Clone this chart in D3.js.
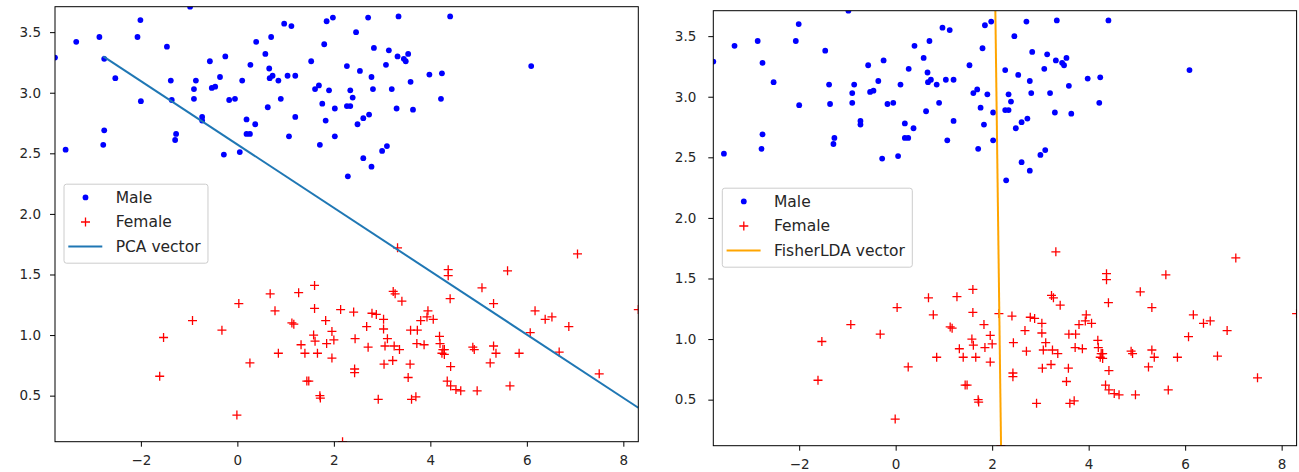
<!DOCTYPE html>
<html>
<head>
  <meta charset="utf-8">
  <title>PCA vs FisherLDA</title>
  <script src="https://cdn.jsdelivr.net/npm/d3@7"></script>
  <style>
    body { margin: 0; background: #ffffff; }
    svg text { font-family: "DejaVu Sans", sans-serif; font-size: 13.5px; fill: #262626; }
    .legend text { font-size: 15.5px; }
    .spine { fill: none; stroke: #000000; stroke-width: 1; }
    .tick line { stroke: #000000; }
    .male { fill: #0000ff; }
    .female { stroke: #ff0000; stroke-width: 1.3; fill: none; }
    .legend-box { fill: #ffffff; fill-opacity: 0.8; stroke: #cccccc; stroke-width: 1; }
  </style>
</head>
<body>
<script>
  // Male samples
  var maleX = [-3.78, -3.34, -2.86, -2.01, -2.07, -0.98, -1.46, -2.76, -2.53, -2.00,
               -1.38, -1.36, -2.76, -2.78, -3.56, -1.27, -1.29, -0.86, -0.90, -0.90,
               -0.73, -0.73, -0.57, -0.53, -0.46, -0.36, -0.25, -0.17, -0.05, -0.28,
               0.05, 0.10, 0.19, 0.19, 0.26, 0.37, 0.27, 0.39, 0.58, 0.66,
               0.67, 0.73, 0.85, 0.70, 0.97, 1.12, 1.04, 1.20, 0.63, 0.90,
               1.20, 1.07, 1.85, 1.98, 2.71, 3.34, 4.41, 2.46, 1.80, 1.53,
               2.27, 2.54, 2.83, 3.14, 3.08, 3.32, 3.45, 3.49, 3.54, 2.78,
               3.98, 4.24, 6.09, 3.59, 1.69, 1.61, 1.90, 2.34, 2.81, 3.20,
               2.39, 1.76, 2.02, 2.27, 2.34, 3.30, 3.64, 4.22, 1.83, 2.61,
               2.73, 2.49, 2.02, 1.71, 3.00, 3.10, 2.61, 2.78, 2.29];
  var maleY = [3.29, 3.42, 3.46, 3.60, 3.46, 3.71, 3.38, 3.28, 3.12, 2.93,
               3.10, 2.94, 2.69, 2.57, 2.53, 2.66, 2.61, 3.10, 3.03, 2.95,
               2.80, 2.77, 3.26, 3.04, 3.05, 3.13, 3.30, 2.94, 2.95, 2.49,
               2.51, 3.10, 2.78, 2.66, 2.66, 2.74, 3.23, 3.42, 3.32, 3.20,
               3.12, 3.14, 3.10, 3.46, 3.57, 3.55, 3.14, 3.14, 2.88, 2.95,
               2.80, 2.64, 3.59, 3.62, 3.62, 3.63, 3.63, 3.50, 3.40, 3.26,
               3.22, 3.18, 3.37, 3.35, 3.23, 3.30, 3.28, 3.26, 3.32, 3.13,
               3.15, 3.16, 3.22, 3.09, 3.06, 3.03, 3.02, 3.02, 3.03, 3.03,
               2.96, 2.91, 2.87, 2.89, 2.89, 2.87, 2.86, 2.95, 2.77, 2.79,
               2.82, 2.74, 2.64, 2.57, 2.52, 2.56, 2.46, 2.39, 2.31];

  // Female samples
  var femaleX = [-1.53, -1.61, -0.93, -0.32, 0.03, 0.26, -0.01, 0.68, 0.78, 0.85,
                 1.27, 1.13, 1.17, 1.60, 1.60, 1.32, 1.40, 1.58, 1.61, 1.66,
                 1.44, 1.48, 1.71, 1.72, 1.83, 1.96, 2.00, 1.85, 1.96, 2.14,
                 2.41, 2.44, 2.43, 2.43, 2.18, 2.68, 2.71, 2.79, 2.88, 3.03,
                 3.03, 3.11, 3.06, 3.04, 2.92, 3.22,
                 3.32, 3.23, 3.27, 3.41, 4.37, 4.37, 4.41, 5.60, 7.05, 5.07,
                 5.31, 6.17, 6.38, 6.52, 6.87, 8.31, 6.07, 6.67, 7.50, 5.84,
                 5.65, 4.97, 4.88, 4.91, 5.31, 5.36, 5.24, 3.95, 3.80, 3.93,
                 4.06, 3.59, 3.73, 3.72, 3.87, 3.25, 3.36, 3.58, 3.54, 3.61,
                 3.70, 4.19, 4.20, 4.26, 4.29, 4.24, 4.29, 4.42, 4.35, 4.42,
                 4.53, 4.63];
  var femaleY = [0.98, 0.66, 1.12, 1.04, 1.26, 0.77, 0.34, 1.34, 1.20, 0.85,
                 1.35, 1.10, 1.09, 1.41, 1.22, 0.92, 0.85, 1.00, 0.95, 0.85,
                 0.62, 0.62, 0.50, 0.48, 1.12, 1.03, 0.96, 0.93, 0.81, 1.21,
                 1.19, 0.97, 0.72, 0.69, 0.12, 1.07, 0.90, 1.18, 1.17, 1.13,
                 1.05, 0.97, 0.91, 0.76, 0.47, 0.79,
                 1.72, 1.36, 1.34, 1.28, 1.54, 1.49, 1.30, 1.53, 1.67, 1.39,
                 1.26, 1.20, 1.13, 1.15, 1.07, 1.21, 1.02, 0.86, 0.68, 0.85,
                 0.58, 0.54, 0.90, 0.88, 0.91, 0.85, 0.77, 1.20, 1.12, 1.15,
                 1.13, 1.04, 1.04, 0.93, 0.92, 0.91, 0.88, 0.76, 0.65, 0.47,
                 0.49, 0.99, 0.93, 0.88, 0.88, 0.85, 0.84, 0.74, 0.62, 0.58,
                 0.55, 0.54];

  // Projection vectors (end points)
  var pcaX = [-2.78, 8.31];
  var pcaY = [3.30, 0.40];
  var ldaX = [2.066, 2.184];
  var ldaY = [3.71, 0.12];

  var xTicks = [-2, 0, 2, 4, 6, 8];
  var yTicks = [0.5, 1.0, 1.5, 2.0, 2.5, 3.0, 3.5];

  var width = 1299;
  var height = 472;
  var plotW = 583.3;
  var plotH = 435;

  var svg = d3.select("body").append("svg")
              .attr("width", width)
              .attr("height", height);

  // Axis limits are the data extent
  var xScale = d3.scaleLinear()
                 .domain(d3.extent(maleX.concat(femaleX)))
                 .range([0, plotW]);
  var yScale = d3.scaleLinear()
                 .domain(d3.extent(maleY.concat(femaleY)))
                 .range([plotH, 0]);

  var males = maleX.map(function(x, i) { return [x, maleY[i]]; });
  var females = femaleX.map(function(x, i) { return [x, femaleY[i]]; });

  function plus(x, y, s) {
    return "M" + (x - s) + "," + y + "H" + (x + s) + "M" + x + "," + (y - s) + "V" + (y + s);
  }

  function drawPanel(id, left, top, yPad, lineX, lineY, lineColor, lineLabel) {
    var g = svg.append("g")
               .attr("transform", "translate(" + left + "," + top + ")");

    g.append("clipPath").attr("id", id)
     .append("rect").attr("width", plotW).attr("height", plotH);

    var plot = g.append("g").attr("clip-path", "url(#" + id + ")");

    plot.selectAll("circle")
        .data(males)
        .enter()
        .append("circle")
        .attr("class", "male")
        .attr("cx", function(d) { return xScale(d[0]); })
        .attr("cy", function(d) { return yScale(d[1]); })
        .attr("r", 2.9);

    plot.selectAll("path.female")
        .data(females)
        .enter()
        .append("path")
        .attr("class", "female")
        .attr("d", function(d) { return plus(xScale(d[0]), yScale(d[1]), 4.5); });

    var line = d3.line()
                 .x(function(d) { return xScale(d[0]); })
                 .y(function(d) { return yScale(d[1]); });
    plot.append("path")
        .datum(d3.zip(lineX, lineY))
        .attr("d", line)
        .attr("fill", "none")
        .attr("stroke", lineColor)
        .attr("stroke-width", 2);

    // Axes
    var xAxis = d3.axisBottom(xScale)
                  .tickValues(xTicks)
                  .tickSize(5)
                  .tickPadding(9)
                  .tickFormat(function(d) { return d < 0 ? "\u2212" + Math.abs(d) : d; });
    var yAxis = d3.axisLeft(yScale)
                  .tickValues(yTicks)
                  .tickSize(5)
                  .tickPadding(yPad)
                  .tickFormat(d3.format(".1f"));

    g.append("g")
     .attr("transform", "translate(0," + plotH + ")")
     .call(xAxis)
     .call(function(a) { a.select(".domain").remove(); });
    g.append("g")
     .call(yAxis)
     .call(function(a) { a.select(".domain").remove(); });

    g.append("rect")
     .attr("class", "spine")
     .attr("width", plotW)
     .attr("height", plotH);

    // Legend (center left)
    var legend = g.append("g")
                  .attr("class", "legend")
                  .attr("transform", "translate(9,177.5)");
    var box = legend.append("rect")
                    .attr("class", "legend-box")
                    .attr("rx", 2.5)
                    .attr("height", 79);
    var rows = [13.2, 37.8, 62.4];
    legend.append("circle")
          .attr("class", "male")
          .attr("cx", 21.5).attr("cy", rows[0]).attr("r", 2.9);
    legend.append("path")
          .attr("class", "female")
          .attr("d", plus(21.5, rows[1], 4.5));
    legend.append("line")
          .attr("x1", 4.3).attr("x2", 38.3)
          .attr("y1", rows[2]).attr("y2", rows[2])
          .attr("stroke", lineColor)
          .attr("stroke-width", 2);

    var maxLen = 0;
    ["Male", "Female", lineLabel].forEach(function(label, i) {
      var t = legend.append("text")
                    .attr("x", 51.7)
                    .attr("y", rows[i] + 5.4)
                    .text(label);
      maxLen = Math.max(maxLen, t.node().getComputedTextLength());
    });
    box.attr("width", 51.7 + maxLen + 7.4);
  }

  drawPanel("clipLeft", 55, 6.7, 9, pcaX, pcaY, "#1f77b4", "PCA vector");
  drawPanel("clipRight", 713.3, 10.7, 12, ldaX, ldaY, "#ffa500", "FisherLDA vector");
</script>
</body>
</html>
